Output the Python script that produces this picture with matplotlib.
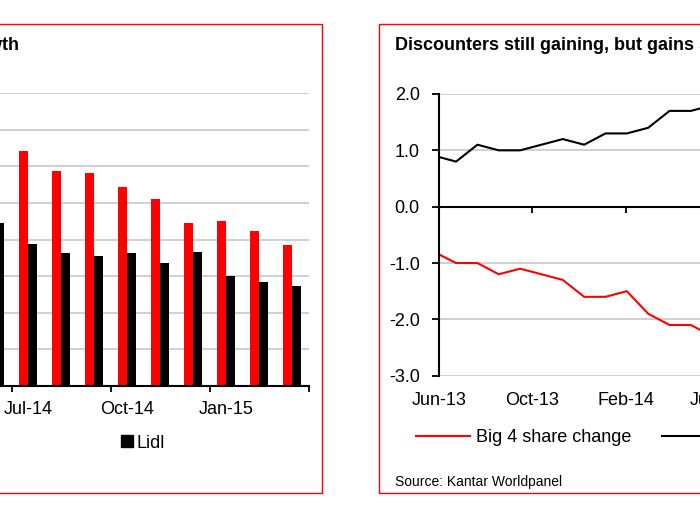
import numpy as np
import matplotlib.pyplot as plt
import matplotlib.dates as mdates
from matplotlib.patches import Rectangle, Patch
from matplotlib.lines import Line2D

plt.rcParams['font.family'] = ['Liberation Sans', 'DejaVu Sans']

# left panel: monthly sales growth (%)
months = ['Jun-14', 'Jul-14', 'Aug-14', 'Sep-14', 'Oct-14', 'Nov-14',
          'Dec-14', 'Jan-15', 'Feb-15', 'Mar-15']
aldi = [33.0, 32.1, 29.4, 29.1, 27.2, 25.5, 22.3, 22.5, 21.1, 19.2]
lidl = [22.2, 19.4, 18.2, 17.7, 18.2, 16.8, 18.3, 15.0, 14.2, 13.6]

# right panel: share change (ppt), Kantar 4-weekly periods
periods = ['2013-06-01', '2013-06-23', '2013-07-21', '2013-08-18', '2013-09-15',
           '2013-10-13', '2013-11-10', '2013-12-08', '2014-01-05', '2014-02-02',
           '2014-03-02', '2014-03-30', '2014-04-27', '2014-05-25']
big4 = [-0.85, -1.0, -1.0, -1.2, -1.1, -1.2, -1.3, -1.6, -1.6, -1.5,
        -1.9, -2.1, -2.1, -2.3]
discounters = [0.88, 0.80, 1.1, 1.0, 1.0, 1.1, 1.2, 1.1, 1.3, 1.3,
               1.4, 1.7, 1.7, 1.8]
date_ticks = ['2013-06-01', '2013-10-01', '2014-02-01', '2014-06-01']
date_labels = ['Jun-13', 'Oct-13', 'Feb-14', 'Jun-14']

W, H = 700, 525
fig = plt.figure(figsize=(7, 5.25), dpi=100)

def fx(px):
    return px / W

def fy(py):
    return 1 - py / H

red = '#ff0000'
grid_c = '#c8c8c8'

# panel borders
fig.patches.append(Rectangle((fx(-20), fy(492.5)), fx(341.5), (492.5 - 24) / H,
                             transform=fig.transFigure, fill=False, ec=red, lw=1))
fig.patches.append(Rectangle((fx(378.7), fy(492.5)), fx(400), (492.5 - 24) / H,
                             transform=fig.transFigure, fill=False, ec=red, lw=1))

# ---- left panel ----
ax1 = fig.add_axes([fx(-21.5), fy(386), fx(330), (386 - 93) / H])
x = np.arange(len(months))
w = 0.28
ax1.bar(x - w / 2, aldi, w, color=red, label='Aldi')
ax1.bar(x + w / 2, lidl, w, color='black', label='Lidl')
ax1.set_xlim(-0.5, len(months) - 0.5)
ax1.set_ylim(0, 40)
ax1.set_yticks(np.arange(0, 41, 5))
ax1.yaxis.grid(True, color=grid_c, lw=1.2)
ax1.set_axisbelow(True)
for s in ['top', 'right', 'left']:
    ax1.spines[s].set_visible(False)
ax1.spines['bottom'].set_linewidth(1.5)
ax1.tick_params(axis='y', left=False, labelleft=False)
ax1.set_xticks(x[1::3], [months[i] for i in x[1::3]])
ax1.set_xticks(np.arange(0.5, len(months), 3), minor=True)
ax1.tick_params(axis='x', which='major', length=0, pad=11, labelsize=13)
ax1.tick_params(axis='x', which='minor', length=4, width=1.3, direction='out')

h1 = [Patch(color=red), Patch(color='black')]
fig.legend(h1, ['Aldi', 'Lidl'], loc='center right',
           bbox_to_anchor=(fx(165), fy(443)), ncol=2, frameon=False, fontsize=13,
           handlelength=0.65, handleheight=0.65, handletextpad=0.2,
           columnspacing=8, borderpad=0, borderaxespad=0)

fig.text(fx(19), fy(45), 'Aldi and Lidl sales growth', ha='right', va='center',
         fontsize=13, fontweight='bold')

# ---- right panel ----
t = mdates.datestr2num(periods)
t0 = mdates.datestr2num('2013-06-01')
ax2 = fig.add_axes([fx(439.3), fy(375.7), fx(510), (375.7 - 94) / H])
ax2.plot(t, big4, color=red, lw=1.5, label='Big 4 share change')
ax2.plot(t, discounters, color='black', lw=1.5, label='Discounters share change')
ax2.set_xlim(t0, t0 + 669)
ax2.set_ylim(-3, 2)
ax2.set_yticks(np.arange(-3, 2.1, 1))
ax2.yaxis.set_major_formatter(plt.FuncFormatter(lambda v, p: f'{v:.1f}'))
ax2.yaxis.grid(True, color=grid_c, lw=1.2)
ax2.set_axisbelow(True)
for s in ['top', 'right']:
    ax2.spines[s].set_visible(False)
ax2.spines['left'].set_linewidth(1.5)
ax2.spines['bottom'].set_position(('data', 0))
ax2.spines['bottom'].set_linewidth(1.5)
ax2.tick_params(axis='y', length=5, width=1.3, pad=9, labelsize=13)
tick_nums = mdates.datestr2num(date_ticks)
ax2.set_xticks(tick_nums)
ax2.tick_params(axis='x', length=4.5, width=1.3, labelbottom=False)

sec = ax2.secondary_xaxis('bottom')
sec.set_xticks(tick_nums, date_labels)
sec.tick_params(length=0, pad=12, labelsize=13)
sec.spines['bottom'].set_visible(False)

fig.legend(loc='center left', bbox_to_anchor=(fx(416), fy(437.5)), ncol=2,
           frameon=False, fontsize=13, handlelength=3.0, handletextpad=0.35,
           columnspacing=1.65, borderpad=0, borderaxespad=0,
           handles=ax2.get_legend_handles_labels()[0])

fig.text(fx(395), fy(45), 'Discounters still gaining, but gains slowing',
         ha='left', va='center', fontsize=13, fontweight='bold')
fig.text(fx(395), fy(482), 'Source: Kantar Worldpanel', ha='left', va='center',
         fontsize=10)

fig.savefig('out.png', dpi=100)
